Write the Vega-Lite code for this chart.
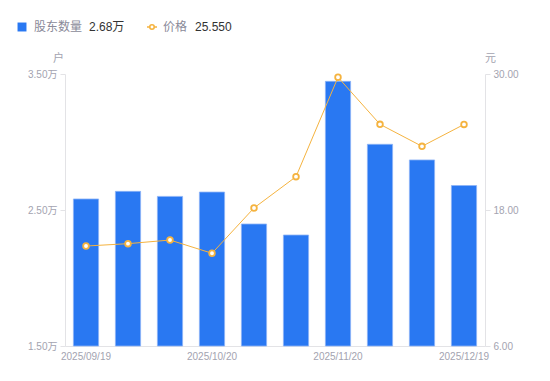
{
  "$schema": "https://vega.github.io/schema/vega-lite/v6.json",
  "autosize": "none",
  "width": 420,
  "height": 272,
  "padding": {"left": 65, "top": 74, "right": 65, "bottom": 35},
  "background": "white",
  "config": {
    "view": {"stroke": null},
    "font": "Liberation Sans, Noto Sans CJK SC, sans-serif",
    "legend": {
      "orient": "none",
      "direction": "horizontal",
      "labelFontSize": 12,
      "labelColor": "#8a8a99",
      "titleOrient": "right",
      "titleFontSize": 12,
      "titleFontWeight": "normal",
      "titleColor": "#333333",
      "titleBaseline": "middle",
      "titleAnchor": "middle"
    }
  },
  "data": {
    "values": [
      {"date": "2025/09/19", "holders": 25810, "price": 14.82},
      {"date": "2025/09/30", "holders": 26370, "price": 15.03},
      {"date": "2025/10/10", "holders": 26000, "price": 15.35},
      {"date": "2025/10/20", "holders": 26320, "price": 14.18},
      {"date": "2025/10/31", "holders": 23970, "price": 18.18},
      {"date": "2025/11/10", "holders": 23160, "price": 20.94},
      {"date": "2025/11/20", "holders": 34460, "price": 29.71},
      {"date": "2025/11/28", "holders": 29830, "price": 25.56},
      {"date": "2025/12/10", "holders": 28680, "price": 23.62},
      {"date": "2025/12/19", "holders": 26800, "price": 25.55}
    ]
  },
  "encoding": {
    "x": {
      "field": "date",
      "type": "ordinal",
      "sort": null,
      "scale": {"paddingInner": 0.4, "paddingOuter": 0.2},
      "axis": {
        "title": null,
        "values": ["2025/09/19", "2025/10/20", "2025/11/20", "2025/12/19"],
        "labelAngle": 0,
        "ticks": false,
        "labelPadding": 5,
        "labelFontSize": 10,
        "labelColor": "#a3a3b0",
        "domainColor": "#e3e3e6",
        "grid": false
      }
    }
  },
  "layer": [
    {
      "mark": {"type": "bar", "stroke": "#8db4f6", "strokeWidth": 0.8},
      "encoding": {
        "y": {
          "field": "holders",
          "type": "quantitative",
          "scale": {"domain": [15000, 35000], "nice": false, "zero": false},
          "axis": {
            "orient": "left",
            "values": [15000, 25000, 35000],
            "labelExpr": "format(datum.value / 10000, '.2f') + '万'",
            "title": "户",
            "titleAngle": 0,
            "titleX": -7,
            "titleY": -16,
            "titleAlign": "center",
            "titleBaseline": "middle",
            "titleFontSize": 11,
            "titleFontWeight": "normal",
            "titleColor": "#a3a3b0",
            "labelFontSize": 10,
            "labelColor": "#a3a3b0",
            "tickSize": 5,
            "tickColor": "#e3e3e6",
            "domainColor": "#e3e3e6",
            "labelPadding": 3,
            "grid": false
          }
        },
        "y2": {"datum": 15000},
        "fill": {
          "datum": "股东数量",
          "scale": {"domain": ["股东数量"], "range": ["#2978F2"]},
          "legend": {
            "legendX": -49,
            "legendY": -53,
            "title": "2.68万",
            "titlePadding": 7,
            "labelOffset": 6,
            "symbolType": "square",
            "symbolSize": 80,
            "symbolStrokeWidth": 0
          }
        }
      }
    },
    {
      "layer": [
        {
          "mark": {"type": "line", "strokeWidth": 1},
          "encoding": {
            "y": {"field": "price", "type": "quantitative"}
          }
        },
        {
          "mark": {"type": "point", "filled": false, "fill": "white", "fillOpacity": 1, "strokeWidth": 1.8, "size": 32, "opacity": 1},
          "encoding": {
            "y": {"field": "price", "type": "quantitative"}
          }
        }
      ],
      "encoding": {
        "stroke": {
          "datum": "价格",
          "scale": {"domain": ["价格"], "range": ["#F5B33F"]},
          "legend": {
            "legendX": 81,
            "legendY": -53,
            "title": "25.550",
            "titlePadding": 8,
            "labelOffset": 5,
            "symbolType": "M-1,0L-0.45,0M0.45,0L1,0M0.45,0A0.45,0.45,0,1,1,-0.45,0A0.45,0.45,0,1,1,0.45,0",
            "symbolSize": 100,
            "symbolStrokeWidth": 1.6,
            "symbolFillColor": "white"
          }
        },
        "y": {
          "field": "price",
          "type": "quantitative",
          "scale": {"domain": [6, 30], "nice": false, "zero": false},
          "axis": {
            "orient": "right",
            "values": [6, 18, 30],
            "format": ".2f",
            "title": "元",
            "titleAngle": 0,
            "titleX": 5,
            "titleY": -16,
            "titleAlign": "center",
            "titleBaseline": "middle",
            "titleFontSize": 11,
            "titleFontWeight": "normal",
            "titleColor": "#a3a3b0",
            "labelFontSize": 10,
            "labelColor": "#a3a3b0",
            "tickSize": 5,
            "tickColor": "#e3e3e6",
            "domainColor": "#e3e3e6",
            "labelPadding": 3,
            "grid": false
          }
        }
      }
    }
  ],
  "resolve": {"scale": {"y": "independent"}, "axis": {"y": "independent"}}
}
